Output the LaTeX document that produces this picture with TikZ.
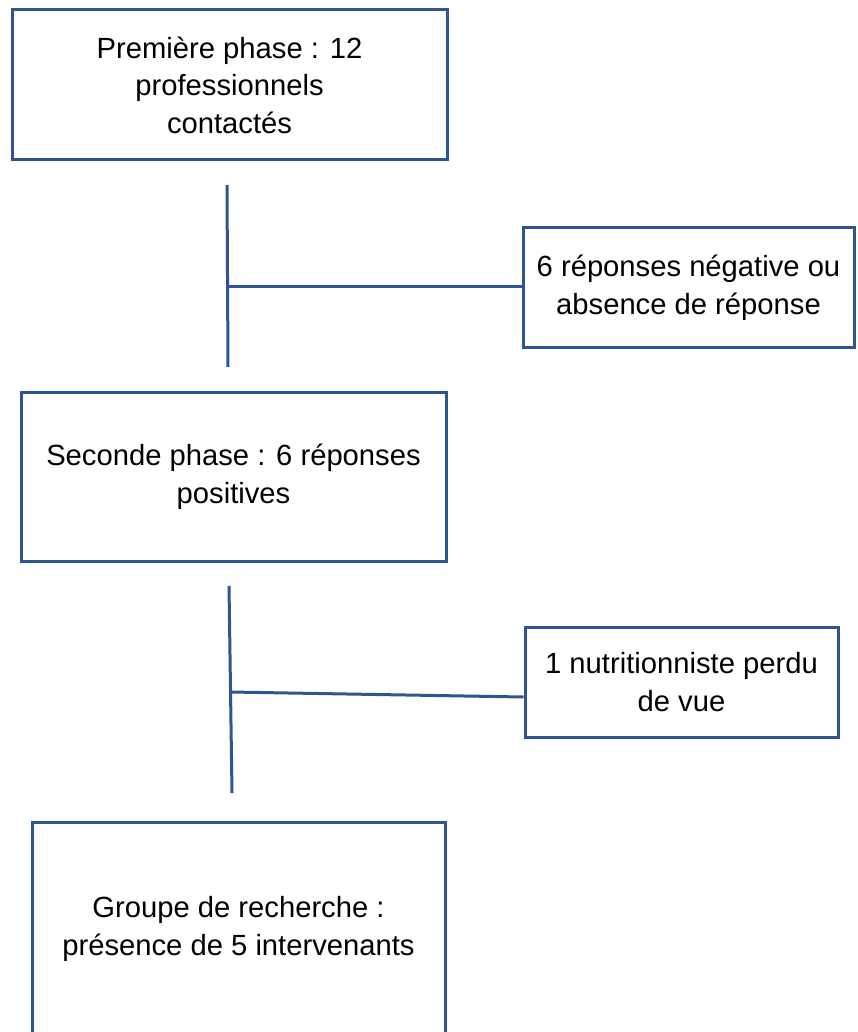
\documentclass[tikz,border=0pt]{standalone}
\usepackage{fontspec}
\setmainfont{Liberation Sans}
\definecolor{flowblue}{RGB}{47,84,150}

\begin{document}
\begin{tikzpicture}[x=0.5pt,y=-0.5pt,
  phasebox/.style={draw=flowblue, line width=1.5pt, align=center, inner sep=0pt,
                   font=\fontsize{14.6}{18.8}\selectfont},
  link/.style={draw=flowblue, line width=1.5pt}]
\useasboundingbox (0,0) rectangle (857,1032);
\clip (0,0) rectangle (857,1032);

  % phases
  \node[phasebox, minimum width=217.5pt, minimum height=75pt] (first) at (229.5,85)
        {Première phase : 12\\professionnels\\contactés};
  \node[phasebox, minimum width=212.5pt, minimum height=84.5pt] (second) at (233.5,477)
        {Seconde phase : 6 réponses\\positives};
  \node[phasebox, minimum width=206.5pt, minimum height=107pt] (group) at (238.5,929)
        {Groupe de recherche :\\présence de 5 intervenants};

  % exclusions
  \node[phasebox, minimum width=165.5pt, minimum height=59.5pt] (negative) at (688.5,287.5)
        {6 réponses négative ou\\absence de réponse};
  \node[phasebox, minimum width=156.5pt, minimum height=55pt] (lost) at (681.5,682)
        {1 nutritionniste perdu\\de vue};

  % first split
  \coordinate (top1) at (227,185);
  \coordinate (bot1) at (228,367);
  \coordinate (mid1) at (228,286);
  \draw[link] (top1) -- (bot1);
  \draw[link] (mid1) -- (mid1 -| negative.west);

  % second split
  \coordinate (top2) at (229,586);
  \coordinate (bot2) at (232,793);
  \coordinate (mid2) at (230,692);
  \draw[link] (top2) -- (bot2);
  \draw[link] (mid2) -- ([yshift=-7.5pt]lost.west);
\end{tikzpicture}
\end{document}
